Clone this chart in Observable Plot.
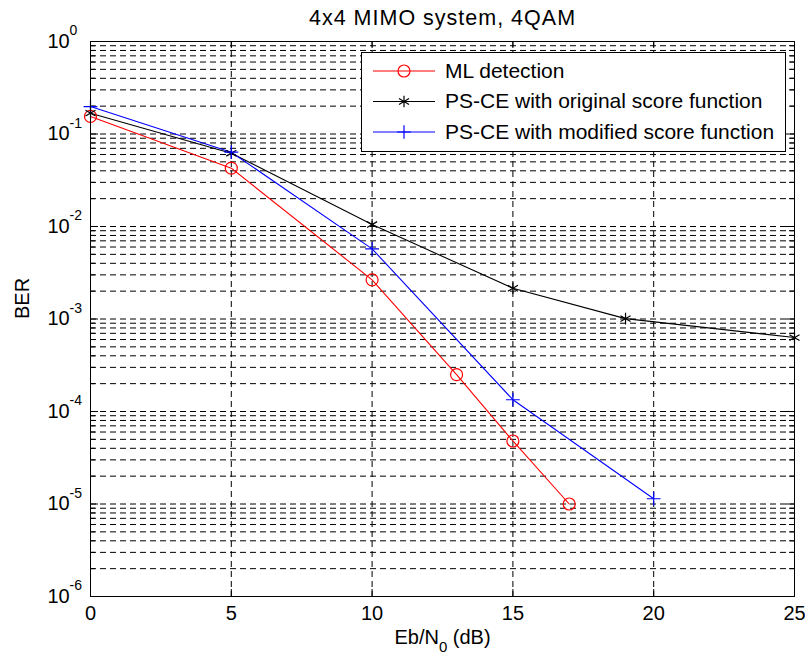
<!DOCTYPE html>
<html><head><meta charset="utf-8">
<script src="https://cdn.jsdelivr.net/npm/d3@7"></script>
<script src="https://cdn.jsdelivr.net/npm/@observablehq/plot@0.6"></script>
<style>body{margin:0;background:#fff;} svg{display:block;}</style>
</head><body><div id="chart"></div>
<script>
const titleText = "4x4 MIMO system, 4QAM";
const xLabelText = "Eb/N0 (dB)";
const yLabelText = "BER";

const seriesNames = ["ML detection", "PS-CE with original score function", "PS-CE with modified score function"];
const seriesColors = ["#ff0000", "#000000", "#0000ff"];
const seriesSymbols = ["circle", "asterisk", "plus"];
const seriesMarkerR = [6, 5.5, 4.5];

const mlX = [0, 5, 10, 13, 15, 17];
const mlBER = [0.155, 0.0427, 0.00265, 2.5e-4, 4.8e-5, 1.0e-5];
const origX = [0, 5, 10, 15, 19, 25];
const origBER = [0.168, 0.062, 0.0105, 0.00215, 0.00101, 6.3e-4];
const modX = [0, 5, 10, 15, 20];
const modBER = [0.198, 0.0636, 0.00573, 1.34e-4, 1.14e-5];

const xTicks = [0, 5, 10, 15, 20, 25];
const xGrid = [5, 10, 15, 20];
const yTicks = [1, 1e-1, 1e-2, 1e-3, 1e-4, 1e-5, 1e-6];
const yTickExponents = ["0", "-1", "-2", "-3", "-4", "-5", "-6"];
const decades = [1e-6, 1e-5, 1e-4, 1e-3, 1e-2, 1e-1];
const multipliers = [1, 2, 3, 4, 5, 6, 7, 8, 9];

const W = 805, H = 659;
const mL = 90, mR = 11, mT = 41, mB = 63;
const pw = W - mL - mR, ph = H - mT - mB;

const seriesX = [mlX, origX, modX];
const seriesY = [mlBER, origBER, modBER];
const rows = [];
seriesNames.forEach((name, s) => seriesX[s].forEach((x, i) => rows.push({series: name, x, ber: seriesY[s][i]})));

const minorVals = [];
decades.forEach(d => multipliers.forEach(m => { if (m > 1) minorVals.push(d * m); }));
const gridVals = [];
decades.forEach(d => multipliers.forEach(m => { const v = d * m; if (v > 1e-6) gridVals.push(v); }));
const yTickRows = yTicks.map((v, i) => ({v, exp: yTickExponents[i]}));

const dash = "6,4";
const font = "'Liberation Sans', Arial, Helvetica, sans-serif";

const marks = [
  Plot.ruleY(gridVals, {y: d => d, stroke: "#000", strokeWidth: 1, strokeDasharray: dash}),
  Plot.ruleX(xGrid, {x: d => d, stroke: "#000", strokeWidth: 1, strokeDasharray: dash}),
  Plot.tickY(minorVals, {y: d => d, insetRight: pw - 5, stroke: "#000"}),
  Plot.tickY(minorVals, {y: d => d, insetLeft: pw - 5, stroke: "#000"}),
  Plot.tickY(yTicks, {y: d => d, insetRight: pw - 8, stroke: "#000"}),
  Plot.tickY(yTicks, {y: d => d, insetLeft: pw - 8, stroke: "#000"}),
  Plot.tickX(xGrid, {x: d => d, insetTop: ph - 7, stroke: "#000"}),
  Plot.tickX(xGrid, {x: d => d, insetBottom: ph - 7, stroke: "#000"}),
  Plot.line(rows, {x: "x", y: "ber", z: "series", stroke: "series", strokeWidth: 1.1}),
  ...seriesNames.map((name, s) => Plot.dot(rows.filter(r => r.series === name), {
    x: "x", y: "ber", symbol: () => seriesSymbols[s], r: seriesMarkerR[s], stroke: seriesColors[s], strokeWidth: 1.2, fill: "none"
  })),
  Plot.frame({stroke: "#000", strokeWidth: 1}),
  Plot.text(xTicks, {x: d => d, text: d => String(d), frameAnchor: "bottom", lineAnchor: "middle", dy: 17.5, fontSize: 20}),
  Plot.text(yTickRows, {y: "v", text: () => "10", frameAnchor: "left", lineAnchor: "middle", textAnchor: "start", dx: -43, fontSize: 20}),
  Plot.text(yTickRows, {y: "v", text: "exp", frameAnchor: "left", lineAnchor: "middle", textAnchor: "start", dx: -21, dy: -10.5, fontSize: 14}),
  Plot.text([titleText], {text: d => d, frameAnchor: "top", lineAnchor: "middle", dy: -23.5, fontSize: 21.5}),
  Plot.text([xLabelText], {text: d => d, frameAnchor: "bottom", lineAnchor: "middle", dy: 41.5, fontSize: 20}),
  Plot.text([yLabelText], {text: d => d, frameAnchor: "left", lineAnchor: "middle", dx: -68, rotate: -90, fontSize: 20})
];

const plot = Plot.plot({
  width: W, height: H,
  marginLeft: mL, marginRight: mR, marginTop: mT, marginBottom: mB,
  style: {fontFamily: font, fontSize: "20px", background: "#fff", color: "#000", overflow: "visible"},
  x: {domain: [0, 25], axis: null},
  y: {type: "log", domain: [1e-6, 1], axis: null},
  color: {domain: seriesNames, range: seriesColors},
  marks
});
document.getElementById("chart").appendChild(plot);

d3.select(plot).selectAll("text").filter(function() { return this.textContent === xLabelText; }).each(function() {
  const t = d3.select(this);
  t.text(null);
  t.append("tspan").text("Eb/N");
  t.append("tspan").attr("dy", 8).attr("font-size", 15).text("0");
  t.append("tspan").attr("dy", -8).text(" (dB)");
});
d3.select(plot).selectAll("text").filter(function() { return this.textContent === titleText; })
  .style("letter-spacing", "1px");

const lg = d3.select(plot).append("g").attr("font-family", font).attr("font-size", 21).attr("text-anchor", "start");
lg.append("rect").attr("x", 361.5).attr("y", 52.5).attr("width", 424).attr("height", 99)
  .attr("fill", "#fff").attr("stroke", "#000");
const symbolTypes = {circle: d3.symbolCircle, asterisk: d3.symbolAsterisk, plus: d3.symbolPlus};
seriesNames.forEach((name, i) => {
  const cy = 71 + i * 30.5;
  lg.append("line").attr("x1", 373).attr("x2", 435).attr("y1", cy).attr("y2", cy)
    .attr("stroke", seriesColors[i]).attr("stroke-width", 1.1);
  const r = seriesMarkerR[i];
  lg.append("path").attr("d", d3.symbol(symbolTypes[seriesSymbols[i]], Math.PI * r * r)())
    .attr("transform", `translate(404,${cy})`).attr("fill", "none").attr("stroke", seriesColors[i]).attr("stroke-width", 1.2);
  lg.append("text").attr("x", 445).attr("y", cy).attr("dy", "0.32em").attr("fill", "#000").text(name);
});
</script>
</body></html>
